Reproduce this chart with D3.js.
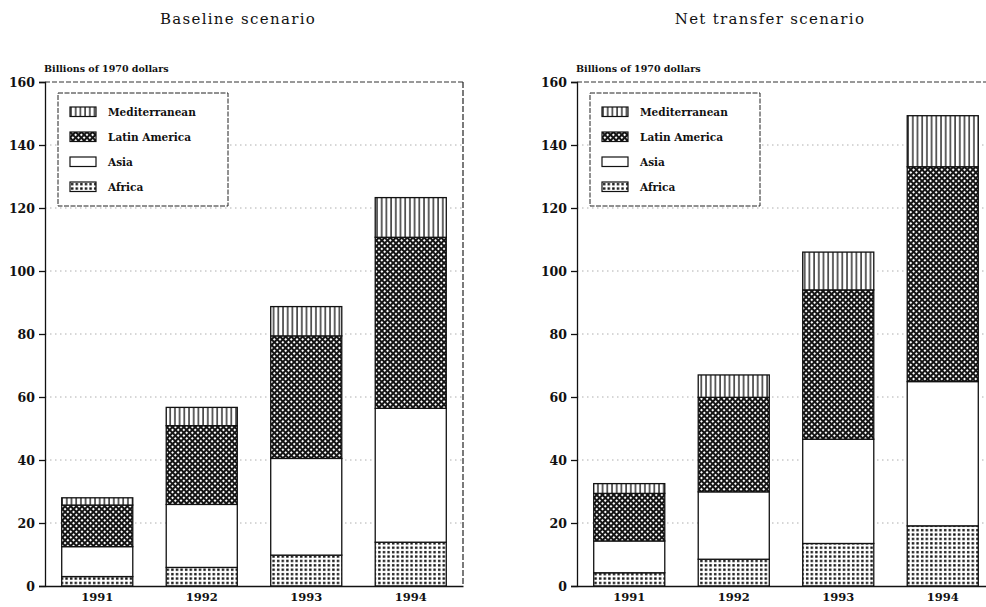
<!DOCTYPE html>
<html>
<head>
<meta charset="utf-8">
<script src="https://cdn.jsdelivr.net/npm/d3@7"></script>
<style>
  body { margin: 0; background: #fff; }
  svg { display: block; }
  text { font-family: "DejaVu Serif", "Liberation Serif", serif; fill: #111; }
</style>
</head>
<body>
<svg id="chart" width="986" height="607"></svg>
<script>
// categories and series (billions of 1970 dollars)
const years = ['1991', '1992', '1993', '1994'];
const regions = ['Africa', 'Asia', 'Latin America', 'Mediterranean'];
const legendOrder = ['Mediterranean', 'Latin America', 'Asia', 'Africa'];
const yTicks = [0, 20, 40, 60, 80, 100, 120, 140, 160];

const baselineAfrica = [3.0, 5.9, 9.8, 13.9];
const baselineAsia = [9.5, 20.0, 30.7, 42.5];
const baselineLatin = [13.2, 25.0, 38.9, 54.3];
const baselineMed = [2.3, 5.8, 9.3, 12.6];

const netAfrica = [4.2, 8.5, 13.5, 19.1];
const netAsia = [10.1, 21.4, 33.1, 45.8];
const netLatin = [15.1, 30.0, 47.4, 68.2];
const netMed = [3.1, 7.1, 12.0, 16.2];

const svg = d3.select('#chart');
const defs = svg.append('defs');

// hatch patterns like the old printout
const pVert = defs.append('pattern').attr('id', 'p-med')
    .attr('patternUnits', 'userSpaceOnUse').attr('width', 4.7).attr('height', 10);
pVert.append('rect').attr('width', 4.7).attr('height', 10).attr('fill', '#fff');
pVert.append('line').attr('x1', 1).attr('x2', 1).attr('y1', 0).attr('y2', 10)
    .attr('stroke', '#111').attr('stroke-width', 1.3);

const pCross = defs.append('pattern').attr('id', 'p-latin')
    .attr('patternUnits', 'userSpaceOnUse').attr('width', 4).attr('height', 4)
    .attr('patternTransform', 'rotate(45)');
pCross.append('rect').attr('width', 4).attr('height', 4).attr('fill', '#151515');
pCross.append('rect').attr('x', 1).attr('y', 1).attr('width', 2).attr('height', 2).attr('fill', '#fff');

const pDots = defs.append('pattern').attr('id', 'p-africa')
    .attr('patternUnits', 'userSpaceOnUse').attr('width', 4.6).attr('height', 4.4);
pDots.append('rect').attr('width', 4.6).attr('height', 4.4).attr('fill', '#fff');
pDots.append('rect').attr('x', 1).attr('y', 1).attr('width', 2.4).attr('height', 2.3).attr('fill', '#111');

const fills = {
    'Africa': 'url(#p-africa)',
    'Asia': '#fff',
    'Latin America': 'url(#p-latin)',
    'Mediterranean': 'url(#p-med)'
};

function drawPanel(opts) {
    const { left, right, title, titleX, series, legendX } = opts;
    const g = svg.append('g');

    const y = d3.scaleLinear().domain([0, 160]).range([586, 82]);
    const x = d3.scaleBand().domain(years).range([left, right])
        .paddingInner(0.32).paddingOuter(0.16);

    // title
    g.append('text')
        .attr('x', titleX).attr('y', 24)
        .attr('text-anchor', 'middle')
        .style('font-size', '15px')
        .style('letter-spacing', '1.3px')
        .text(title);

    // unit label
    g.append('text')
        .attr('x', left - 1).attr('y', 72)
        .style('font-size', '9.5px')
        .style('font-weight', 'bold')
        .text('Billions of 1970 dollars');

    // gridlines
    g.append('g').selectAll('line')
        .data(yTicks.filter(t => t > 0 && t < 160))
        .enter().append('line')
        .attr('x1', left).attr('x2', Math.min(right, 986))
        .attr('y1', d => y(d)).attr('y2', d => y(d))
        .attr('stroke', '#999').attr('stroke-width', 0.8)
        .attr('stroke-dasharray', '1.5,3.5');

    // frame: dashed top and right
    g.append('line')
        .attr('x1', left).attr('x2', Math.min(right, 986))
        .attr('y1', y(160)).attr('y2', y(160))
        .attr('stroke', '#333').attr('stroke-width', 1)
        .attr('stroke-dasharray', '5,2');
    if (right < 986) {
        g.append('line')
            .attr('x1', right).attr('x2', right)
            .attr('y1', y(160)).attr('y2', y(0))
            .attr('stroke', '#222').attr('stroke-width', 1.2)
            .attr('stroke-dasharray', '6,2');
    }

    // stacked bars
    const table = years.map((yr, i) => {
        const row = { year: yr };
        regions.forEach(r => { row[r] = series[r][i]; });
        return row;
    });
    const stacked = d3.stack().keys(regions)(table);

    g.append('g').selectAll('g')
        .data(stacked)
        .enter().append('g')
        .attr('fill', d => fills[d.key])
        .selectAll('rect')
        .data(d => d)
        .enter().append('rect')
        .attr('x', d => x(d.data.year))
        .attr('y', d => y(d[1]))
        .attr('width', x.bandwidth())
        .attr('height', d => y(d[0]) - y(d[1]))
        .attr('stroke', '#111')
        .attr('stroke-width', 1.3);

    // y axis
    const yAxis = g.append('g')
        .attr('transform', `translate(${left},0)`)
        .call(d3.axisLeft(y).tickValues(yTicks).tickSize(6).tickPadding(4));
    yAxis.select('.domain').attr('stroke', '#111').attr('stroke-width', 1.3);
    yAxis.selectAll('.tick line').attr('stroke', '#111').attr('stroke-width', 1.3);
    yAxis.selectAll('.tick text')
        .style('font-family', '"DejaVu Serif", serif')
        .style('font-size', '12.5px')
        .style('font-weight', 'bold')
        .attr('fill', '#111');

    // x axis
    const xAxis = g.append('g')
        .attr('transform', `translate(0,${y(0)})`)
        .call(d3.axisBottom(x).tickSize(0).tickPadding(7));
    xAxis.select('.domain').attr('stroke', '#111').attr('stroke-width', 1.3);
    xAxis.selectAll('.tick text')
        .style('font-family', '"DejaVu Serif", serif')
        .style('font-size', '11.5px')
        .style('font-weight', 'bold')
        .attr('fill', '#111');

    // legend
    const lg = g.append('g').attr('transform', `translate(${legendX},93)`);
    lg.append('rect')
        .attr('width', 170).attr('height', 113)
        .attr('fill', '#fff')
        .attr('stroke', '#222').attr('stroke-width', 1)
        .attr('stroke-dasharray', '5,1.5');
    const item = lg.selectAll('.item')
        .data(legendOrder)
        .enter().append('g')
        .attr('class', 'item')
        .attr('transform', (d, i) => `translate(12,${14 + i * 25})`);
    item.append('rect')
        .attr('width', 26).attr('height', 9.5)
        .attr('fill', d => fills[d])
        .attr('stroke', '#111').attr('stroke-width', 1.2);
    item.append('text')
        .attr('x', 38).attr('y', 9)
        .style('font-size', '10.5px')
        .style('font-weight', 'bold')
        .text(d => d);
}

drawPanel({
    left: 45, right: 463, title: 'Baseline scenario', titleX: 238, legendX: 58,
    series: { 'Africa': baselineAfrica, 'Asia': baselineAsia, 'Latin America': baselineLatin, 'Mediterranean': baselineMed }
});
drawPanel({
    left: 577, right: 995, title: 'Net transfer scenario', titleX: 770, legendX: 590,
    series: { 'Africa': netAfrica, 'Asia': netAsia, 'Latin America': netLatin, 'Mediterranean': netMed }
});
</script>
</body>
</html>
